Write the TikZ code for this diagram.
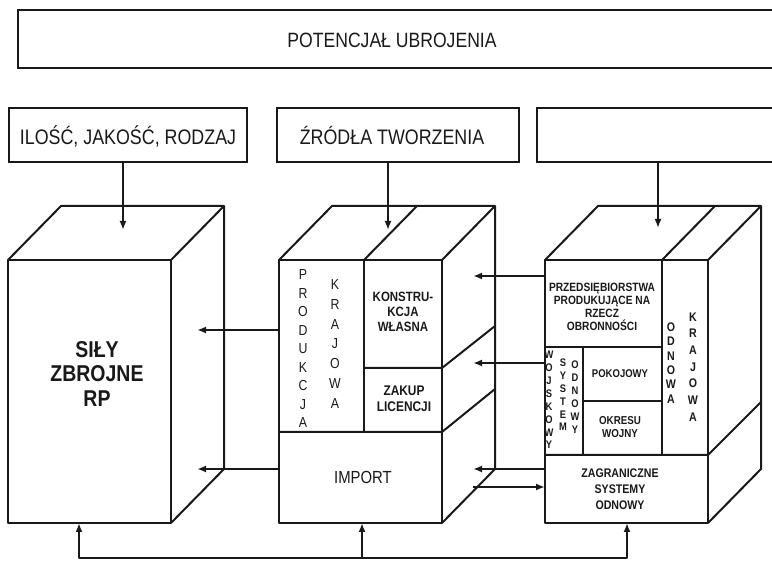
\documentclass[tikz,border=0pt]{standalone}
\usepackage{fontspec}
\setmainfont[FakeStretch=0.85]{Liberation Sans}
\usetikzlibrary{arrows.meta}
\begin{document}
\begin{tikzpicture}[x=1pt,y=-1pt,
  ln/.style={line width=2pt, line join=round, draw=black!90},
  arr/.style={ln, -{Latex[length=9pt,width=7pt]}},
  hbox/.style={draw=black!90, line width=2pt, minimum height=54pt, inner sep=0pt},
  lbl/.style={inner sep=0pt, align=center, text=black!90}]
\clip (0,0) rectangle (772,569);
\useasboundingbox (0,0) rectangle (772,569);
% top box
\node[hbox, minimum width=782pt, minimum height=58pt] (top) at (409,39) {};
\node[lbl, font=\fontsize{20.7}{24}\selectfont] (toptxt) at (392,40) {POTENCJAŁ UBROJENIA};
% header boxes
\node[hbox, minimum width=238pt] (h1) at (128,135) {};
\node[lbl, font=\fontsize{21}{24}\selectfont] (h1t) at (128,136) {ILOŚĆ, JAKOŚĆ, RODZAJ};
\node[hbox, minimum width=242pt] (h2) at (398,135) {};
\node[lbl, font=\fontsize{21}{24}\selectfont] (h2t) at (392,136) {ŹRÓDŁA TWORZENIA};
\node[hbox, minimum width=263pt] (h3) at (668.5,135) {};
% left cube
\draw[ln] (8,260) rectangle (171,523);
\draw[ln] (8,260) -- (61,206) -- (224,206) -- (224,469) -- (171,523);
\draw[ln] (171,260) -- (224,206);
% middle cube
\draw[ln] (279,260) rectangle (442,523);
\draw[ln] (279,260) -- (332,206) -- (495,206) -- (495,469) -- (442,523);
\draw[ln] (442,260) -- (495,206);
\draw[ln] (364,260) -- (417,206);
\draw[ln] (364,260) -- (364,432);
\draw[ln] (364,368) -- (442,368) -- (495,326);
\draw[ln] (279,432) -- (442,432) -- (495,389);
% right cube
\draw[ln] (545,260) rectangle (708,523);
\draw[ln] (545,260) -- (598,206) -- (761,206) -- (761,469) -- (708,523);
\draw[ln] (708,260) -- (761,206);
\draw[ln] (662,260) -- (715,206);
\draw[ln] (662,260) -- (662,455);
\draw[ln] (545,347) -- (662,347);
\draw[ln] (583,347) -- (583,455);
\draw[ln] (583,401) -- (662,401);
\draw[ln] (545,455) -- (708,455) -- (761,402);
% texts left
\node[lbl, font=\bfseries\fontsize{22.9}{24.5}\selectfont] (sily) at (97,374) {SIŁY\\ZBROJNE\\RP};
% texts middle
\node[lbl, font=\fontsize{14.5}{18.5}\selectfont] (prod) at (303,349) {P\\R\\O\\D\\U\\K\\C\\J\\A};
\node[lbl, font=\fontsize{14.5}{19.7}\selectfont] (kraj1) at (335,344) {K\\R\\A\\J\\O\\W\\A};
\node[lbl, font=\bfseries\fontsize{13.5}{15}\selectfont] (konst) at (403,312) {KONSTRU-\\KCJA\\WŁASNA};
\node[lbl, font=\bfseries\fontsize{14}{16}\selectfont] (zakup) at (404,399) {ZAKUP\\LICENCJI};
\node[lbl, font=\fontsize{17.5}{20}\selectfont] (import) at (363,477) {IMPORT};
% texts right
\node[lbl, font=\bfseries\fontsize{12}{12.8}\selectfont] (przed) at (602,307) {PRZEDSIĘBIORSTWA\\PRODUKUJĄCE NA\\RZECZ\\OBRONNOŚCI};
\node[lbl, font=\bfseries\fontsize{11}{12.9}\selectfont] (wojsk) at (549,400) {W\\O\\J\\S\\K\\O\\W\\Y};
\node[lbl, font=\bfseries\fontsize{11}{12.8}\selectfont] (syst) at (563,395) {S\\Y\\S\\T\\E\\M};
\node[lbl, font=\bfseries\fontsize{11}{13}\selectfont] (odn1) at (575,397) {O\\D\\N\\O\\W\\Y};
\node[lbl, font=\bfseries\fontsize{11.2}{13}\selectfont] (pokoj) at (620,374) {POKOJOWY};
\node[lbl, font=\bfseries\fontsize{11.5}{13}\selectfont] (okresu) at (620,427) {OKRESU\\WOJNY};
\node[lbl, font=\bfseries\fontsize{12.5}{14.4}\selectfont] (odn2) at (671,363) {O\\D\\N\\O\\W\\A};
\node[lbl, font=\bfseries\fontsize{12.5}{16.7}\selectfont] (kraj2) at (693,367) {K\\R\\A\\J\\O\\W\\A};
\node[lbl, font=\bfseries\fontsize{12.5}{16}\selectfont] (zagr) at (620,489) {ZAGRANICZNE\\SYSTEMY\\ODNOWY};
% connector coordinates
\coordinate (Ltop) at (123,230);
\coordinate (Mtop) at (388,230);
\coordinate (Rtop) at (658,228);
\coordinate (Mleft1) at (279,330);
\coordinate (Lside1) at (197,330);
\coordinate (Mleft2) at (279,469);
\coordinate (Lside2) at (197,469);
\coordinate (Rleft1) at (545,276);
\coordinate (Mside1) at (473,276);
\coordinate (Rleft2) at (545,363);
\coordinate (Mside2) at (473,363);
\coordinate (Rleft3) at (545,469);
\coordinate (Mside3) at (473,469);
\coordinate (Mside4) at (473,487);
\coordinate (Rleft4) at (545,487);
\coordinate (bL) at (79,558);
\coordinate (bM) at (362,558);
\coordinate (bR) at (627,558);
\coordinate (Lbot) at (79,523);
\coordinate (Mbot) at (362,523);
\coordinate (Rbot) at (627,523);
% connectors
\draw[arr] (h1.south -| Ltop) -- (Ltop);
\draw[arr] (h2.south -| Mtop) -- (Mtop);
\draw[arr] (h3.south -| Rtop) -- (Rtop);
\draw[arr] (Mleft1) -- (Lside1);
\draw[arr] (Mleft2) -- (Lside2);
\draw[arr] (Rleft1) -- (Mside1);
\draw[arr] (Rleft2) -- (Mside2);
\draw[arr] (Rleft3) -- (Mside3);
\draw[arr] (Mside4) -- (Rleft4);
\draw[ln, {Latex[length=9pt,width=7pt]}-{Latex[length=9pt,width=7pt]}] (Lbot) -- (bL) -- (bR) -- (Rbot);
\draw[arr] (bM) -- (Mbot);
\end{tikzpicture}
\end{document}
